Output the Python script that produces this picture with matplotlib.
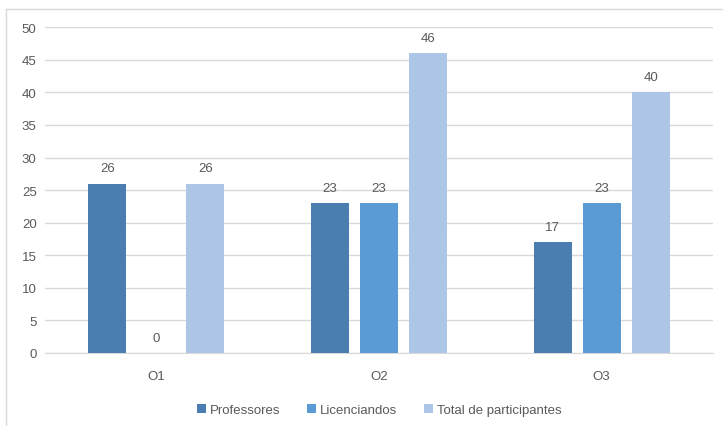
import numpy as np
import matplotlib.pyplot as plt
from matplotlib.lines import Line2D

categorias = ['O1', 'O2', 'O3']
professores = [26, 23, 17]
licenciandos = [0, 23, 23]
total = [26, 46, 40]
series = ['Professores', 'Licenciandos', 'Total de participantes']
cores = ['#4A7DB0', '#5B9BD5', '#ADC5E6']

plt.rcParams['font.family'] = ['Liberation Sans', 'DejaVu Sans']
cinza = '#595959'

fig = plt.figure(figsize=(7.23, 4.27), dpi=100)
ax = fig.add_axes([0.0622, 0.171, 0.924, 0.763])

x = np.arange(len(categorias))
largura = 0.17
passo = 0.22
for i, (vals, nome, cor) in enumerate(zip([professores, licenciandos, total], series, cores)):
    pos = x + (i - 1) * passo
    barras = ax.bar(pos, vals, largura, color=cor, label=nome, zorder=3)
    for b, v in zip(barras, vals):
        ax.text(b.get_x() + b.get_width() / 2, v + 1.4, str(v), ha='center', va='bottom',
                fontsize=9.5, color=cinza)

ax.set_xlim(-0.5, 2.5)
ax.set_ylim(0, 50)
ax.set_yticks(range(0, 51, 5))
ax.set_xticks(x)
ax.set_xticklabels(categorias)
ax.yaxis.grid(True, color='#D9D9D9', lw=1, zorder=0)
for s in ['top', 'right', 'left']:
    ax.spines[s].set_visible(False)
ax.spines['bottom'].set_color('#D9D9D9')
ax.tick_params(axis='both', length=0, labelsize=9.5, colors=cinza)
ax.tick_params(axis='y', pad=6)
ax.tick_params(axis='x', pad=12)

ax.legend(loc='upper center', bbox_to_anchor=(0.5, -0.12), ncol=3, frameon=False,
          fontsize=9.5, labelcolor=cinza, handlelength=0.7, handleheight=0.7,
          handletextpad=0.3, columnspacing=2.0)

# moldura do gráfico
fig.add_artist(Line2D([6 / 723, 6 / 723], [0, 1 - 10 / 427], color='#D9D9D9', lw=1))
fig.add_artist(Line2D([6 / 723, 1], [1 - 10 / 427, 1 - 10 / 427], color='#D9D9D9', lw=1))

fig.savefig('out.png', dpi=100)
